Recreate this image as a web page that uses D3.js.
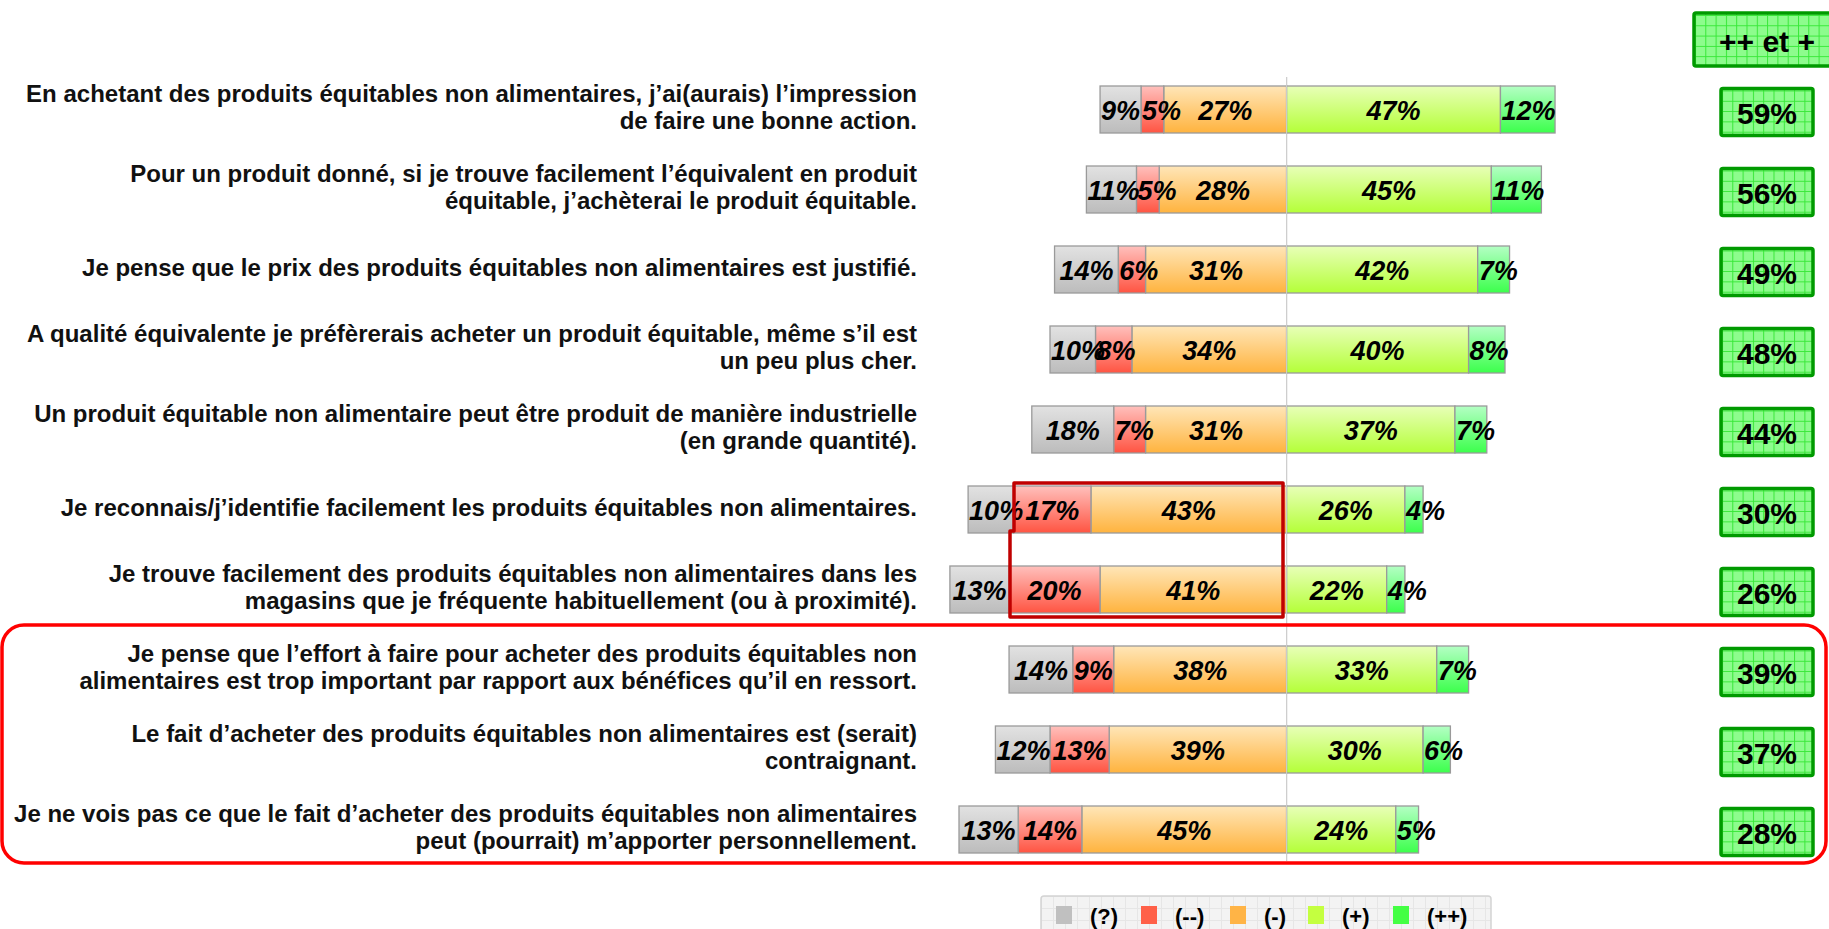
<!DOCTYPE html>
<html>
<head>
<meta charset="utf-8">
<script src="https://cdnjs.cloudflare.com/ajax/libs/d3/7.8.5/d3.min.js"></script>
<style>
  body { margin: 0; background: #fff; }
  text { font-family: "Liberation Sans", Arial, sans-serif; }
</style>
</head>
<body>
<script>
// statements (one per row, split in lines as on the slide)
var categories = [
  ["En achetant des produits équitables non alimentaires, j’ai(aurais) l’impression", "de faire une bonne action."],
  ["Pour un produit donné, si je trouve facilement l’équivalent en produit", "équitable, j’achèterai le produit équitable."],
  ["Je pense que le prix des produits équitables non alimentaires est justifié."],
  ["A qualité équivalente je préfèrerais acheter un produit équitable, même s’il est", "un peu plus cher."],
  ["Un produit équitable non alimentaire peut être produit de manière industrielle", "(en grande quantité)."],
  ["Je reconnais/j’identifie facilement les produits équitables non alimentaires."],
  ["Je trouve facilement des produits équitables non alimentaires dans les", "magasins que je fréquente habituellement (ou à proximité)."],
  ["Je pense que l’effort à faire pour acheter des produits équitables non", "alimentaires est trop important par rapport aux bénéfices qu’il en ressort."],
  ["Le fait d’acheter des produits équitables non alimentaires est (serait)", "contraignant."],
  ["Je ne vois pas ce que le fait d’acheter des produits équitables non alimentaires", "peut (pourrait) m’apporter personnellement."]
];

var nsp     = [9, 11, 14, 10, 18, 10, 13, 14, 12, 13];   // (?)
var tresNeg = [5, 5, 6, 8, 7, 17, 20, 9, 13, 14];         // (--)
var neg     = [27, 28, 31, 34, 31, 43, 41, 38, 39, 45];   // (-)
var pos     = [47, 45, 42, 40, 37, 26, 22, 33, 30, 24];   // (+)
var tresPos = [12, 11, 7, 8, 7, 4, 4, 7, 6, 5];           // (++)
var totalPlus = [59, 56, 49, 48, 44, 30, 26, 39, 37, 28]; // ++ et +

var legendLabels = ["(?)", "(--)", "(-)", "(+)", "(++)"];
var totalTitle = "++ et +";

var W = 1829, H = 929;
var svg = d3.select("body").append("svg").attr("width", W).attr("height", H);
var defs = svg.append("defs");

// colours: [top of gradient, bottom of gradient, flat legend colour]
var cols = [
  ["#e2e2e2", "#bcbcbc", "#c0c0c0"],
  ["#ffc0bc", "#ff5442", "#ff6048"],
  ["#ffe6b8", "#ffb33e", "#ffb446"],
  ["#e8ffb8", "#b4ff38", "#c4ff40"],
  ["#b4ffc4", "#3cff4c", "#44ff44"]
];
cols.forEach(function(c, i) {
  var g = defs.append("linearGradient").attr("id", "g" + i)
    .attr("x1", 0).attr("y1", 0).attr("x2", 0).attr("y2", 1);
  g.append("stop").attr("offset", "0%").attr("stop-color", c[0]);
  g.append("stop").attr("offset", "100%").attr("stop-color", c[1]);
});

// grid pattern for the green total boxes
var pat = defs.append("pattern").attr("id", "grid").attr("patternUnits", "userSpaceOnUse")
  .attr("width", 10.3).attr("height", 10.3).attr("x", 1).attr("y", 2);
pat.append("rect").attr("width", 10.3).attr("height", 10.3).attr("fill", "#8dfc8d");
pat.append("path").attr("d", "M0,0.5H10.3M0.5,0V10.3").attr("stroke", "#38e838").attr("stroke-width", 1);

var pat2 = defs.append("pattern").attr("id", "grid2").attr("patternUnits", "userSpaceOnUse")
  .attr("width", 12).attr("height", 12);
pat2.append("rect").attr("width", 12).attr("height", 12).attr("fill", "#f3f3f3");
pat2.append("path").attr("d", "M0,0.5H12M0.5,0V12").attr("stroke", "#e6e6e6").attr("stroke-width", 1);

var x = d3.scaleLinear().domain([-80, 80]).range([922.6, 1650.6]);
var y = d3.scaleBand().domain(d3.range(categories.length))
  .range([69.5, 869.5]).paddingInner(0.4125).paddingOuter(0.20625);
var bh = y.bandwidth();

// build segments
var rows = categories.map(function(c, i) {
  var segs = [];
  var a = -neg[i];
  segs.push({ s: 2, x0: a, x1: 0, v: neg[i] });
  segs.push({ s: 1, x0: a - tresNeg[i], x1: a, v: tresNeg[i] });
  segs.push({ s: 0, x0: a - tresNeg[i] - nsp[i], x1: a - tresNeg[i], v: nsp[i] });
  segs.push({ s: 3, x0: 0, x1: pos[i], v: pos[i] });
  segs.push({ s: 4, x0: pos[i], x1: pos[i] + tresPos[i], v: tresPos[i] });
  return { i: i, segs: segs };
});

// centre line
svg.append("line").attr("x1", x(0)).attr("x2", x(0)).attr("y1", 77).attr("y2", 861)
  .attr("stroke", "#c8c8c8").attr("stroke-width", 1.2);

var rg = svg.selectAll(".row").data(rows).enter().append("g").attr("class", "row")
  .attr("transform", function(d) { return "translate(0," + y(d.i) + ")"; });

rg.selectAll("rect.seg").data(function(d) { return d.segs; }).enter().append("rect")
  .attr("class", "seg")
  .attr("x", function(d) { return x(d.x0); })
  .attr("width", function(d) { return x(d.x1) - x(d.x0); })
  .attr("y", 0).attr("height", bh)
  .attr("fill", function(d) { return "url(#g" + d.s + ")"; })
  .attr("stroke", "#9a9a9a").attr("stroke-width", 1.3);

// re-draw centre line over the bars (faint)
svg.append("line").attr("x1", x(0)).attr("x2", x(0)).attr("y1", 77).attr("y2", 861)
  .attr("stroke", "#cfcfcf").attr("stroke-width", 1);

// value labels: centred if they fit, else left aligned at segment start
rg.selectAll("text.val").data(function(d) { return d.segs; }).enter().append("text")
  .attr("class", "val")
  .attr("y", bh / 2 + 1)
  .attr("dominant-baseline", "central")
  .attr("font-size", 27).attr("font-weight", "bold").attr("font-style", "italic")
  .attr("fill", "#000")
  .text(function(d) { return d.v + "%"; })
  .attr("x", function(d) {
    var w = this.getComputedTextLength();
    var sw = x(d.x1) - x(d.x0);
    if (w > sw - 2) return x(d.x0) + 1;
    return (x(d.x0) + x(d.x1)) / 2 - w / 2;
  });

// statements
var lab = svg.selectAll(".lab").data(categories).enter().append("text")
  .attr("class", "lab")
  .attr("text-anchor", "end")
  .attr("font-size", 24).attr("font-weight", "bold").attr("fill", "#111");
lab.each(function(lines, i) {
  var cy = y(i) + bh / 2 - 2.5;
  var t = d3.select(this);
  lines.forEach(function(l, k) {
    t.append("tspan").attr("x", 917)
      .attr("y", cy + (k - (lines.length - 1) / 2) * 27)
      .attr("dominant-baseline", "central")
      .text(l);
  });
});

// totals ++ et +
var tot = svg.selectAll(".tot").data(totalPlus).enter().append("g").attr("class", "tot")
  .attr("transform", function(d, i) { return "translate(1721," + (y(i) + bh / 2 - 21) + ")"; });
tot.append("rect").attr("width", 92).attr("height", 47).attr("rx", 2)
  .attr("fill", "url(#grid)").attr("stroke", "#009a00").attr("stroke-width", 3.5);
tot.append("text").attr("x", 46).attr("y", 25).attr("text-anchor", "middle")
  .attr("dominant-baseline", "central")
  .attr("font-size", 30).attr("font-weight", "bold").text(function(d) { return d + "%"; });

var head = svg.append("g").attr("transform", "translate(1694,13)");
head.append("rect").attr("width", 150).attr("height", 53).attr("rx", 2)
  .attr("fill", "url(#grid)").attr("stroke", "#009a00").attr("stroke-width", 3.5);
head.append("text").attr("x", 73).attr("y", 28).attr("text-anchor", "middle")
  .attr("dominant-baseline", "central")
  .attr("font-size", 30).attr("font-weight", "bold").text(totalTitle);

// highlight frames
svg.append("rect").attr("x", 2).attr("y", 625).attr("width", 1824).attr("height", 238)
  .attr("rx", 22).attr("fill", "none").attr("stroke", "#ff0000").attr("stroke-width", 3.5);
svg.append("path").attr("d", "M1014,483H1283V617H1010V531H1014Z")
  .attr("fill", "none").attr("stroke", "#c00000").attr("stroke-width", 3.5)
  .attr("stroke-linejoin", "round");

// legend
var leg = svg.append("g").attr("transform", "translate(1041,896)");
leg.append("rect").attr("width", 450).attr("height", 45).attr("rx", 3)
  .attr("fill", "url(#grid2)").attr("stroke", "#d4d4d4").attr("stroke-width", 1.5);
var lx = [15, 100, 189, 267, 352];
var li = leg.selectAll(".li").data(legendLabels).enter().append("g")
  .attr("transform", function(d, i) { return "translate(" + lx[i] + ",0)"; });
li.append("rect").attr("y", 10).attr("width", 16).attr("height", 18)
  .attr("fill", function(d, i) { return cols[i][2]; });
li.append("text").attr("x", 34).attr("y", 20).attr("dominant-baseline", "central")
  .attr("font-size", 22).attr("font-weight", "bold").text(function(d) { return d; });
</script>
</body>
</html>
